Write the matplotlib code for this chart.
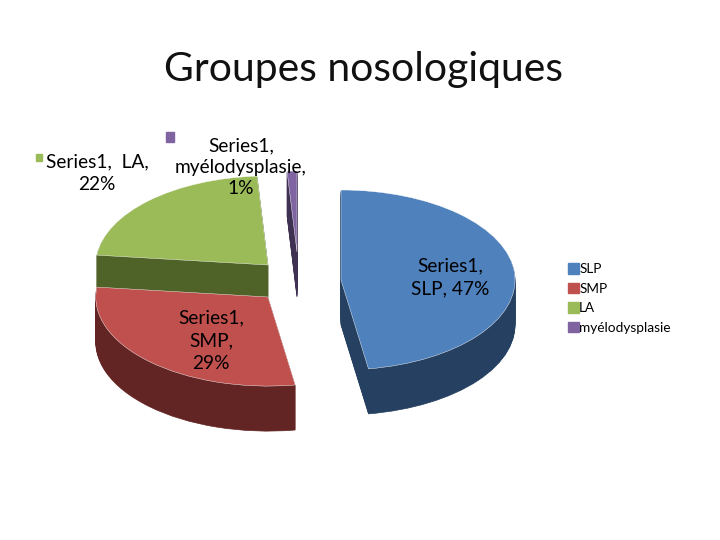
import matplotlib
matplotlib.use("Agg")
import matplotlib.pyplot as plt
from matplotlib.patches import Patch, Rectangle

plt.rcParams['font.family'] = ['Lato', 'DejaVu Sans']

categories = ['SLP', 'SMP', 'LA', 'myélodysplasie']
percents = [47, 29, 22, 1]
series_name = 'Series1'
title = 'Groupes nosologiques'

top_colors = ['#4F81BD', '#C0504D', '#9BBB59', '#8064A2']
side_colors = ['#254061', '#632523', '#4F6228', '#3F3151']

W, H = 720, 540
RX, RY = 174, 90   # pie radii in pixels (squashed circle)
DEPTH = 45

# where each exploded slice has its tip, in picture pixels
tips = {'SLP': (341, 280), 'SMP': (268, 297), 'LA': (268, 265), 'myélodysplasie': (297, 252)}
radius = {'SLP': 1, 'SMP': 0.99, 'LA': 0.99, 'myélodysplasie': 0.9}
draw_order = ['myélodysplasie', 'LA', 'SMP', 'SLP']

fig = plt.figure(figsize=(W / 100, H / 100), dpi=100)
ax = fig.add_axes([0, 0, 1, 1])


def to_data(x, y):
    return x / RX, (H - y) / RY


def one_slice(i, x, y, color, edge='none', lw=0):
    cat = categories[i]
    wedges, _ = ax.pie(percents, center=to_data(x, y), radius=radius[cat],
                       startangle=90, counterclock=False, colors=[color] * 4,
                       wedgeprops={'edgecolor': edge, 'linewidth': lw})
    for j, w in enumerate(wedges):
        if j != i:
            w.remove()


for cat in draw_order:
    i = categories.index(cat)
    x, y = tips[cat]
    for d in range(DEPTH, 0, -1):
        one_slice(i, x, y + d, side_colors[i], side_colors[i], 0.5)
    one_slice(i, x, y, top_colors[i], 'white', 0.3)

ax.set_aspect('auto')
ax.set_xlim(0, W / RX)
ax.set_ylim(0, H / RY)
ax.axis('off')


def label(x, y, txt, size=13.8, spacing=1.42):
    fig.text(x / W, 1 - y / H, txt, ha='center', va='center', fontsize=size,
             color='black', linespacing=spacing, zorder=5)


fig.text(364 / W, 1 - 69 / H, title, ha='center', va='center', fontsize=29.4, color='#111111')

label(450, 277, f'{series_name},\n{categories[0]}, {percents[0]}%')
label(211, 341, f'{series_name},\n{categories[1]},\n{percents[1]}%')
label(97, 173, f'{series_name},  {categories[2]},\n{percents[2]}%')
label(241, 167, f'{series_name},\n{categories[3]},\n{percents[3]}%', spacing=1.3)

# little legend keys beside two of the data labels
fig.add_artist(Rectangle((36 / W, 1 - 161 / H), 6 / W, 7 / H, color=top_colors[2], transform=fig.transFigure))
fig.add_artist(Rectangle((166 / W, 1 - 142 / H), 8 / W, 10 / H, color=top_colors[3], transform=fig.transFigure))

handles = [Patch(color=c) for c in top_colors]
ax.legend(handles, categories, loc='upper left', bbox_to_anchor=(567 / W, 1 - 262 / H),
          bbox_transform=fig.transFigure, frameon=False, fontsize=9.8,
          handlelength=0.8, handleheight=0.8, handletextpad=0.0,
          labelspacing=0.55, borderpad=0.1, borderaxespad=0)

fig.savefig('out.png', dpi=100)
